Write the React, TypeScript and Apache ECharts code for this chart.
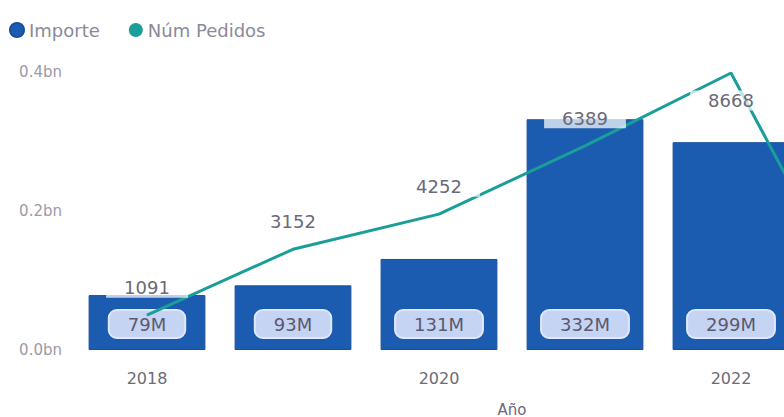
import React, { useEffect, useRef } from "react";
import * as echarts from "echarts";

const years = ["2018", "2019", "2020", "2021", "2022", "2023"];
const importe = [79e6, 93e6, 131e6, 332e6, 299e6, 20e6];
const pedidos = [1091, 3152, 4252, 6389, 8668, 120];
const yTicks = [0, 0.2e9, 0.4e9];

const FONT = "'DejaVu Sans', 'Open Sans', sans-serif";
const lastVisible = 4;

export default function App() {
  const ref = useRef<HTMLDivElement>(null);
  useEffect(() => {
    if (!ref.current) return;
    const chart = echarts.init(ref.current, undefined, { renderer: "svg" });
    const maxIdx = pedidos.indexOf(Math.max(...pedidos));
    chart.setOption({
      animation: false,
      textStyle: { fontFamily: FONT },
      color: ["#1c5cb0", "#1a9e9a"],
      legend: {
        left: 4,
        top: 16,
        icon: "circle",
        itemWidth: 14,
        itemHeight: 14,
        itemGap: 29,
        textStyle: { color: "#8a8a9a", fontSize: 18, fontFamily: FONT },
        data: ["Importe", "Núm Pedidos"],
      },
      grid: { left: 74, right: 10, top: 72, bottom: 67, outerBoundsMode: "none" },
      xAxis: {
        type: "category",
        data: years,
        name: "Año",
        nameLocation: "middle",
        nameGap: 52,
        nameTextStyle: { color: "#6a6a7a", fontSize: 15, fontFamily: FONT },
        axisLine: { show: false },
        axisTick: { show: false },
        axisLabel: { interval: 1, color: "#6c6c74", fontSize: 16, margin: 20, fontFamily: FONT },
      },
      yAxis: [
        {
          type: "value",
          min: yTicks[0],
          max: yTicks[yTicks.length - 1],
          interval: yTicks[1] - yTicks[0],
          splitLine: { show: false },
          axisLine: { show: false },
          axisTick: { show: false },
          axisLabel: {
            color: "#9a9aaa",
            fontSize: 15,
            margin: 12,
            fontFamily: FONT,
            formatter: (v: number) => (v / 1e9).toFixed(1) + "bn",
          },
        },
        { type: "value", min: 0, max: 8700, show: false, splitLine: { show: false } },
      ],
      series: [
        {
          name: "Importe",
          type: "bar",
          data: importe.map((v, i) => ({ value: v, label: { show: i <= lastVisible } })),
          barCategoryGap: "20%",
          itemStyle: { color: "#1c5cb0", borderColor: "#174f9e", borderWidth: 1 },
          label: {
            show: true,
            position: "insideBottom",
            distance: 13,
            formatter: (p: any) => Math.round(p.value / 1e6) + "M",
            color: "#5a5a70",
            fontSize: 18,
            fontFamily: FONT,
            backgroundColor: "#c6d4f4",
            borderColor: "#dfe7fb",
            borderWidth: 2,
            borderRadius: 7,
            padding: [4, 18, 4, 18],
          },
          z: 2,
        },
        {
          name: "Núm Pedidos",
          type: "line",
          yAxisIndex: 1,
          data: pedidos.map((v, i) => ({
            value: v,
            label:
              i > lastVisible
                ? { show: false }
                : i === maxIdx
                ? { position: "bottom", distance: 17 }
                : { position: "top", distance: 17 },
          })),
          symbol: "circle",
          symbolSize: 1,
          lineStyle: { color: "#1a9e9a", width: 3 },
          itemStyle: { color: "#1a9e9a" },
          label: {
            show: true,
            color: "#6a6a78",
            fontSize: 18,
            fontFamily: FONT,
            backgroundColor: "rgba(255,255,255,0.72)",
            padding: [1, 18, 1, 18],
          },
          z: 5,
        },
      ],
    });
    return () => chart.dispose();
  }, []);
  return (
    <div style={{ position: "fixed", left: 0, top: 0, width: 784, height: 417, overflow: "hidden", background: "#fff" }}>
      <div ref={ref} style={{ width: 960, height: 417 }} />
    </div>
  );
}
